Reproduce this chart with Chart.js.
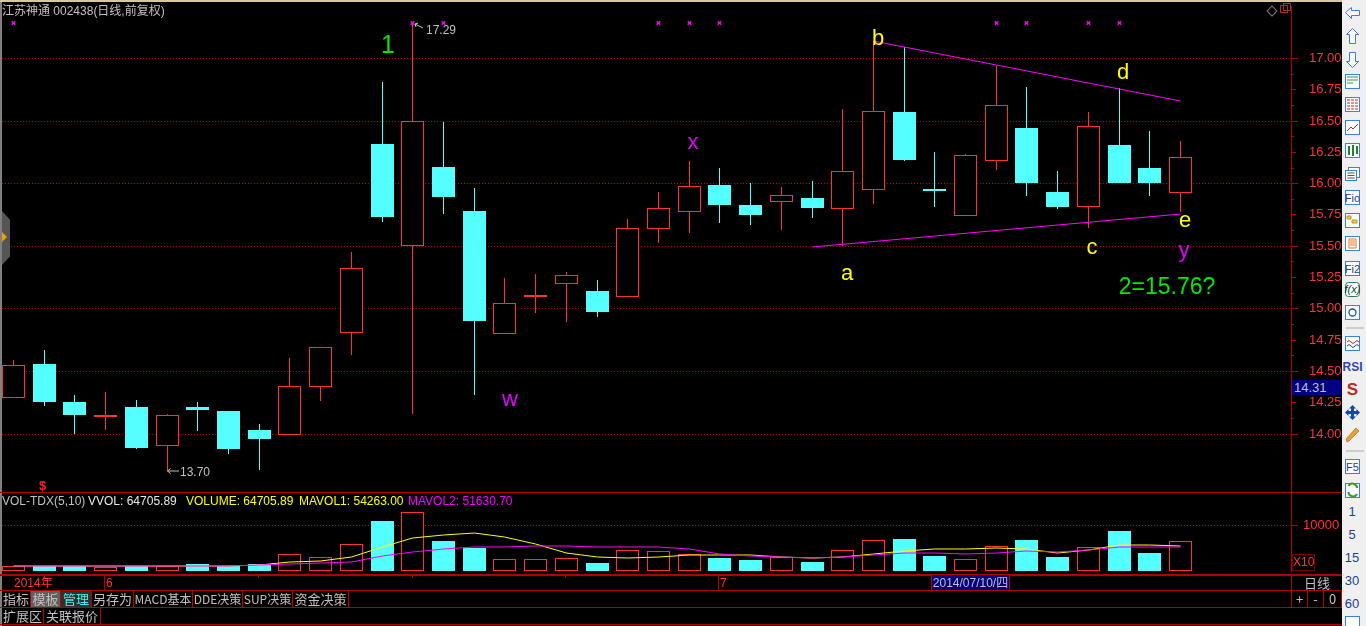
<!DOCTYPE html>
<html>
<head>
<meta charset="utf-8">
<title>江苏神通 002438</title>
<script src="https://cdn.jsdelivr.net/npm/chart.js@4"></script>
<style>
  html, body { margin: 0; padding: 0; background: #000; width: 1366px; height: 626px; overflow: hidden; }
  body { position: relative; font-family: "Liberation Sans", "Noto Sans CJK SC", sans-serif; color: #c0c0c0; }
  canvas { position: absolute; left: 0; }
  #priceChart { top: 0; }
  #volumeChart { top: 493px; }
  .abs { position: absolute; white-space: nowrap; }
  .hline { position: absolute; left: 0; width: 1342px; height: 1px; background: #b40000; }
  .vline { position: absolute; width: 1px; background: #b40000; }
  .note { position: absolute; white-space: nowrap; font: 22px/22px "Liberation Sans", sans-serif; transform: translate(-50%, -50%); }
  .stat { position: absolute; top: 495px; font-size: 12px; line-height: 13px; white-space: nowrap; }
  .btn { position: absolute; height: 16px; line-height: 16px; text-align: center; border-right: 1px solid #b40000; font: 13px/16px "Noto Sans CJK SC", sans-serif; white-space: nowrap; }
  #side { position: absolute; left: 1342px; top: 0; }
</style>
</head>
<body>
<canvas id="priceChart" width="1342" height="493"></canvas>
<canvas id="volumeChart" width="1342" height="79"></canvas>

<div class="abs" style="left:0;top:0;width:1342px;height:2px;background:#d8c89c"></div>
<div class="abs" style="left:0;top:2px;width:2px;height:624px;background:#808080"></div>
<div class="abs" style="left:2px;top:3px;font:12px/16px 'Liberation Sans','Noto Sans CJK SC',sans-serif">江苏神通 002438(日线,前复权)</div>
<div class="abs" style="left:2px;top:211px;width:8px;height:54px;background:#555;clip-path:polygon(0 0,100% 16%,100% 84%,0 100%)"></div>
<div class="abs" style="left:2px;top:232px;width:0;height:0;border-left:5px solid #f0a000;border-top:5px solid transparent;border-bottom:5px solid transparent"></div>
<div class="abs" style="left:1268px;top:7px;width:6px;height:6px;border:1px solid #777;transform:rotate(45deg)"></div>
<div class="abs" style="left:1280px;top:5px;width:6px;height:6px;border:1px solid #a03030"></div>
<div class="abs" style="left:1283px;top:3px;width:6px;height:6px;border:1px solid #a03030"></div>

<div class="note" style="left:388px;top:44px;color:#00e800;font-size:25px">1</div>
<div class="note" style="left:693px;top:142px;color:#e000ff">x</div>
<div class="note" style="left:510px;top:399px;color:#e000ff">w</div>
<div class="note" style="left:847px;top:273px;color:#ffff00">a</div>
<div class="note" style="left:878px;top:38px;color:#ffff00">b</div>
<div class="note" style="left:1092px;top:247px;color:#ffff00">c</div>
<div class="note" style="left:1123px;top:72px;color:#ffff00">d</div>
<div class="note" style="left:1185px;top:220px;color:#ffff00">e</div>
<div class="note" style="left:1184px;top:250px;color:#e000ff">y</div>
<div class="note" style="left:1167px;top:286px;color:#00e800;font-size:23px">2=15.76?</div>
<div class="abs" style="left:426px;top:23px;font-size:12px;line-height:14px">17.29</div>
<div class="abs" style="left:180px;top:465px;font-size:12px;line-height:14px">13.70</div>
<svg class="abs" style="left:412px;top:20px" width="14" height="12"><path d="M3 4 L11 8 M3 4 L6 3 M3 4 L4 7" stroke="#c0c0c0" fill="none"/></svg>
<svg class="abs" style="left:166px;top:466px" width="14" height="10"><path d="M1.5 5 H13 M1.5 5 L4.5 2.5 M1.5 5 L4.5 7.5" stroke="#c0c0c0" fill="none"/></svg>
<div class="abs" style="left:39px;top:479px;color:#ff2020;font:bold 13px/13px 'Liberation Sans',sans-serif">$</div>

<div class="hline" style="top:492px"></div>
<div class="stat" style="left:2px;color:#c0c0c0">VOL-TDX(5,10)</div>
<div class="stat" style="left:88px;color:#e8e8e8">VVOL: 64705.89</div>
<div class="stat" style="left:186px;color:#ffff00">VOLUME: 64705.89</div>
<div class="stat" style="left:299px;color:#ffff00">MAVOL1: 54263.00</div>
<div class="stat" style="left:408px;color:#ff00ff">MAVOL2: 51630.70</div>
<div class="abs" style="left:1292px;top:554px;width:21px;height:15px;border:1px solid #800000;color:#ff3232;font-size:12px;line-height:15px;text-align:center">X10</div>

<div class="hline" style="top:574px;height:2px"></div>
<div class="hline" style="top:590px"></div>
<div class="hline" style="top:607px"></div>
<div class="hline" style="top:624px;width:1366px"></div>
<div class="vline" style="left:104px;top:575px;height:15px"></div>
<div class="vline" style="left:718px;top:575px;height:15px"></div>
<div class="vline" style="left:258px;top:575px;height:3px"></div>
<div class="vline" style="left:412px;top:575px;height:3px"></div>
<div class="vline" style="left:565px;top:575px;height:3px"></div>
<div class="abs" style="left:14px;top:575px;color:#ff3232;font:12px/16px 'Liberation Sans','Noto Sans CJK SC',sans-serif">2014年</div>
<div class="abs" style="left:106px;top:575px;color:#ff3232;font-size:12px;line-height:16px">6</div>
<div class="abs" style="left:720px;top:575px;color:#ff3232;font-size:12px;line-height:16px">7</div>
<div class="abs" style="left:931px;top:575px;width:77px;height:15px;background:#000080;border-left:1px solid #b40000;border-right:1px solid #b40000;font:12px/16px 'Liberation Sans','Noto Sans CJK SC',sans-serif;text-align:center">2014/07/10/四</div>
<div class="vline" style="left:1291px;top:575px;height:32px"></div>
<div class="abs" style="left:1292px;top:575px;width:50px;text-align:center;font:13px/16px 'Noto Sans CJK SC',sans-serif">日线</div>

<div class="btn" style="left:2px;top:591px;width:28px">指标</div>
<div class="btn" style="left:31px;top:591px;width:29px;background:#606060">模板</div>
<div class="btn" style="left:61px;top:591px;width:30px;background:#303030;color:#40f0f0">管理</div>
<div class="btn" style="left:92px;top:591px;width:41px">另存为</div>
<div class="btn" style="left:134px;top:591px;width:58px;font-size:12px">MACD基本</div>
<div class="btn" style="left:193px;top:591px;width:49px;font-size:12px">DDE决策</div>
<div class="btn" style="left:243px;top:591px;width:49px;font-size:12px">SUP决策</div>
<div class="btn" style="left:293px;top:591px;width:55px">资金决策</div>
<div class="btn" style="left:1292px;top:591px;width:15px">+</div>
<div class="btn" style="left:1308px;top:591px;width:15px">-</div>
<div class="btn" style="left:1324px;top:591px;width:17px">0</div>
<div class="btn" style="left:2px;top:608px;width:41px">扩展区</div>
<div class="btn" style="left:44px;top:608px;width:56px">关联报价</div>

<div class="abs" style="left:1292px;top:380px;width:50px;height:15px;background:#000080;padding-left:2px;box-sizing:border-box;font-size:13px;line-height:16px">14.31</div>

<svg id="side" width="24" height="626">
  <rect width="24" height="626" fill="#f0f0f0"/>
  <g fill="#fff" stroke="#3b7fe8" stroke-width="1">
    <path d="M3.5 12.5 L9.5 7.5 V10.5 H17.5 V15.5 H9.5 V18.5 Z" transform="translate(0 0)"/>
    <path d="M10.5 28.5 L16.5 34.5 H13.5 V43.5 H7.5 V34.5 H4.5 Z"/>
    <path d="M10.5 67.5 L16.5 61.5 H13.5 V52.5 H7.5 V61.5 H4.5 Z"/>
    <rect x="3.5" y="74.5" width="14" height="14"/>
    <rect x="3.5" y="97.5" width="14" height="14"/>
    <rect x="3.5" y="120.5" width="14" height="14"/>
    <rect x="3.5" y="143.5" width="14" height="14"/>
    <rect x="6.5" y="167.5" width="11" height="10"/>
    <rect x="3.5" y="170.5" width="11" height="10"/>
    <rect x="3.5" y="190.5" width="14" height="14"/>
    <rect x="3.5" y="213.5" width="14" height="14"/>
    <rect x="3.5" y="236.5" width="14" height="14"/>
    <rect x="3.5" y="261.5" width="14" height="14"/>
    <rect x="3.5" y="282.5" width="14" height="14" rx="3" stroke="#208060"/>
    <rect x="3.5" y="305.5" width="14" height="14"/>
    <rect x="3.5" y="336.5" width="14" height="14"/>
    <rect x="3.5" y="459.5" width="14" height="14"/>
    <rect x="3.5" y="483.5" width="14" height="14"/>
    <rect x="3.5" y="616.5" width="14" height="12"/>
  </g>
  <path d="M5 77H16M5 80H16M5 83H11" stroke="#20a040" fill="none"/>
  <path d="M5 100H16M5 103H16M5 106H16M5 109H16" stroke="#c02020" stroke-dasharray="3 1" fill="none"/>
  <path d="M5 131 L9 127 L11 129 L16 124" stroke="#d02020" fill="none"/>
  <path d="M7 146V155M11 145V156M15 146V154" stroke="#208030" stroke-width="2" fill="none"/>
  <path d="M5.5 173H12.5M5.5 175.5H12.5M5.5 178H12.5" stroke="#555" fill="none"/>
  <path d="M5 216H9V219H5ZM10 220H15V223H10Z" fill="#f0d040" stroke="#c09020"/>
  <path d="M7 239H14V248H7Z M8 241H13M8 243H13M8 245H13" fill="#fff" stroke="#e87820"/>
  <circle cx="10.5" cy="312.5" r="3.5" fill="none" stroke="#2050a0" stroke-width="1.3"/>
  <path d="M5 342 Q7 339 9 342 T13 342 T17 342" stroke="#d02020" fill="none"/>
  <path d="M5 346 Q7 343 9 346 T13 346 T17 346" stroke="#2040c0" fill="none"/>
  <path d="M10.5 405 L14 408.5 H12 V411 H14.5 V409 L18 412.5 L14.5 416 V414 H12 V416.5 H14 L10.5 420 L7 416.5 H9 V414 H6.5 V416 L3 412.5 L6.5 409 V411 H9 V408.5 H7 Z" fill="#1848a8"/>
  <path d="M5 442 L4 439 L14 428 L17 431 L7 441 Z" fill="#e8a030" stroke="#a06010" stroke-width=".6"/>
  <path d="M4 328H22M4 451H22" stroke="#aaa"/>
  <path d="M6.5 486 A4.5 4.5 0 0 1 15 488 M15 494 A4.5 4.5 0 0 1 6.5 492" stroke="#30a030" stroke-width="2" fill="none"/>
  <g font-family="Liberation Sans, sans-serif" fill="#1c3f94" text-anchor="middle">
    <text x="10.5" y="202" font-size="11">Fio</text>
    <text x="10.5" y="273" font-size="11">Fi2</text>
    <text x="10.5" y="293" font-size="11" font-style="italic" fill="#0a4030">f(x)</text>
    <text x="10.5" y="371" font-size="12" font-weight="bold" fill="#3048b0">RSI</text>
    <text x="10.5" y="395" font-size="17" font-weight="bold" fill="#c02828">S</text>
    <text x="10.5" y="471" font-size="11">F5</text>
    <text x="10" y="516" font-size="13">1</text>
    <text x="10" y="539" font-size="13">5</text>
    <text x="10" y="562" font-size="13">15</text>
    <text x="10" y="585" font-size="13">30</text>
    <text x="10" y="608" font-size="13">60</text>
  </g>
</svg>

<script>
// daily bars, 2014-05 to 2014-07
const opens = [14.285, 14.553, 14.25, 14.13, 14.21, 13.9, 14.21, 14.178, 14.027, 13.99, 14.372, 14.803, 16.31, 15.5, 16.126, 15.779, 14.797, 15.09, 15.197, 15.139, 15.093, 15.637, 15.773, 15.987, 15.827, 15.853, 15.883, 15.797, 15.944, 16.572, 15.95, 15.737, 16.176, 16.444, 15.926, 15.809, 16.309, 16.125, 15.92];
const closes = [14.55, 14.25, 14.146, 14.146, 13.883, 14.15, 14.186, 13.875, 13.955, 14.383, 14.694, 15.324, 15.726, 16.5, 15.886, 14.9, 15.04, 15.107, 15.264, 14.97, 15.64, 15.8, 15.976, 15.827, 15.747, 15.904, 15.803, 16.096, 16.577, 16.189, 15.94, 16.226, 16.625, 16.005, 15.806, 16.457, 16.005, 16.005, 16.21];
const highs = [14.585, 14.665, 14.306, 14.33, 14.266, 14.16, 14.25, 14.178, 14.074, 14.6, 14.694, 15.447, 16.806, 17.29, 16.486, 15.963, 15.243, 15.275, 15.29, 15.227, 15.715, 15.93, 16.179, 16.123, 16.003, 15.97, 16.019, 16.595, 17.133, 17.085, 16.253, 16.237, 16.934, 16.771, 16.1, 16.572, 16.76, 16.42, 16.34];
const lows = [14.285, 14.22, 14.0, 14.03, 13.875, 13.7, 14.02, 13.835, 13.71, 13.99, 14.258, 14.625, 15.69, 14.157, 15.75, 14.31, 14.797, 14.963, 14.89, 14.93, 15.093, 15.523, 15.603, 15.683, 15.667, 15.627, 15.723, 15.5, 15.83, 16.176, 15.806, 15.737, 16.109, 15.9, 15.79, 15.646, 16.005, 15.9, 15.766];

const volumes = [1168, 1095, 1095, 949, 1095, 1095, 1460, 1168, 1533, 3650, 2993, 5840, 10950, 12848, 6570, 5037, 2555, 2555, 2774, 1752, 4526, 4307, 3650, 2847, 2409, 2993, 1971, 4526, 6716, 7008, 3285, 2555, 5402, 6789, 3066, 5183, 8760, 3942, 6471];
const mavol1 = [1168, 1168, 1168, 1168, 1168, 1168, 1168, 1168, 1314, 1898, 2190, 2993, 5183, 7154, 7957, 8249, 7519, 5840, 4015, 2993, 2774, 3139, 3431, 3504, 3431, 3139, 2774, 2993, 3650, 4453, 4745, 4745, 4964, 4891, 4015, 4599, 5767, 5621, 5426];
const mavol2 = [1168, 1168, 1168, 1168, 1168, 1168, 1168, 1168, 1241, 1533, 1679, 1971, 3212, 4088, 4891, 5183, 5183, 5402, 5548, 5329, 5329, 5329, 4745, 3650, 3358, 2993, 2920, 3139, 3431, 3942, 3869, 3650, 3869, 4307, 4234, 4526, 5329, 5183, 5163];

const priceTicks = [14, 14.25, 14.5, 14.75, 15, 15.25, 15.5, 15.75, 16, 16.25, 16.5, 16.75, 17];
const volumeTicks = [10000];

// the pink crosses along the top of the price panel
const markerBars = [0, 13, 14, 21, 22, 23, 32, 33, 35, 36];
const markerPrice = 17.283;

// triangle drawn on the chart by hand
const supportBars = [26, 38];
const supportPrices = [15.49, 15.756];
const resistBars = [28, 38];
const resistPrices = [17.134, 16.658];

const RED = "#ff3232";
const CYAN = "#54ffff";
const GRID = "#c00000";
const AXIS = "#b40000";
const AXIS_FONT = { family: "'Liberation Sans', sans-serif", size: 13 };

const isUp = (i) => closes[i] >= opens[i];
const bars = (values) => values.map((v, i) => ({ x: i, y: v }));

// terminal draws everything on whole pixels, so snap the scales the same way
function snapX(scale) {
  if (scale.snapped) return;
  scale.snapped = true;
  const raw = scale.getPixelForValue;
  scale.getPixelForValue = function (v, i) {
    return Math.floor(raw.call(this, v, i)) + 0.5;
  };
}
function snapY(scale) {
  if (scale.snapped) return;
  scale.snapped = true;
  const raw = scale.getPixelForValue;
  scale.getPixelForValue = function (v, i) {
    return Math.round(raw.call(this, v, i));
  };
}

const xAxis = {
  type: "linear",
  display: false,
  offset: false,
  min: -0.3761,
  max: 41.597,
  afterDataLimits: snapX,
};

function yAxis(min, max, tickValues, padding, label) {
  return {
    position: "right",
    min: min,
    max: max,
    afterBuildTicks(axis) {
      snapY(axis);
      axis.ticks = tickValues.map((v) => ({ value: v }));
    },
    afterFit(axis) {
      axis.width = 51;
      axis.paddingTop = 0;
      axis.paddingBottom = 0;
    },
    border: { display: true, color: AXIS, width: 1, dash: [1, 2] },
    grid: {
      drawTicks: false,
      lineWidth: 1,
      color: (ctx) => (ctx.tick && ctx.tick.value % 0.5 === 0 ? GRID : "transparent"),
    },
    ticks: {
      autoSkip: false,
      padding: padding,
      color: RED,
      font: AXIS_FONT,
      callback: label,
    },
  };
}

// short marks on the price axis, longer on the round numbers
const axisMarks = {
  id: "axisMarks",
  afterDraw(chart) {
    const y = chart.scales.y;
    const ctx = chart.ctx;
    const left = y.left;
    ctx.save();
    ctx.strokeStyle = AXIS;
    ctx.lineWidth = 1;
    const mark = (v, len) => {
      const py = y.getPixelForValue(v) + 0.5;
      ctx.beginPath();
      ctx.moveTo(left, py);
      ctx.lineTo(left + len, py);
      ctx.stroke();
    };
    if (chart.canvas.id === "priceChart") {
      priceTicks.forEach((v, i) => {
        mark(v, v % 0.5 === 0 ? 7 : 5);
        if (i < priceTicks.length - 1) mark(v + 0.125, 3);
      });
    } else {
      volumeTicks.forEach((v) => mark(v, 7));
    }
    ctx.restore();
  },
};

const commonOptions = {
  responsive: false,
  animation: false,
  events: [],
  devicePixelRatio: 1,
  layout: { autoPadding: false, padding: { left: 2, right: 0, top: 6, bottom: 1 } },
  plugins: { legend: { display: false }, tooltip: { enabled: false } },
};

new Chart(document.getElementById("priceChart"), {
  type: "bar",
  plugins: [axisMarks],
  data: {
    datasets: [
      {
        label: "high-low",
        order: 3,
        grouped: false,
        data: bars(lows.map((l, i) => [l, highs[i]])),
        maxBarThickness: 1,
        barPercentage: 1,
        categoryPercentage: 1,
        inflateAmount: 0,
        backgroundColor: (ctx) => (isUp(ctx.dataIndex) ? RED : CYAN),
      },
      {
        label: "open-close",
        order: 2,
        grouped: false,
        data: bars(opens.map((o, i) => [o, closes[i]])),
        maxBarThickness: 23,
        barPercentage: 1,
        categoryPercentage: 1,
        inflateAmount: 0,
        minBarLength: 1,
        borderWidth: 1,
        borderSkipped: false,
        borderColor: (ctx) => (isUp(ctx.dataIndex) ? RED : CYAN),
        backgroundColor: (ctx) => (isUp(ctx.dataIndex) ? "#000" : CYAN),
      },
      {
        type: "line",
        label: "support",
        order: 1,
        data: supportBars.map((b, i) => ({ x: b, y: supportPrices[i] })),
        borderColor: "#ff00ff",
        borderWidth: 1,
        pointRadius: 0,
      },
      {
        type: "line",
        label: "resistance",
        order: 1,
        data: resistBars.map((b, i) => ({ x: b, y: resistPrices[i] })),
        borderColor: "#ff00ff",
        borderWidth: 1,
        pointRadius: 0,
      },
      {
        type: "line",
        label: "markers",
        order: 0,
        showLine: false,
        data: markerBars.map((b) => ({ x: b, y: markerPrice })),
        pointStyle: "crossRot",
        pointRadius: 2.5,
        pointBorderColor: "#ff00ff",
        pointBorderWidth: 1.4,
      },
    ],
  },
  options: {
    ...commonOptions,
    scales: {
      x: xAxis,
      y: yAxis(13.5335, 17.4153, priceTicks, 18, (v) => v.toFixed(2)),
    },
  },
});

new Chart(document.getElementById("volumeChart"), {
  type: "bar",
  plugins: [axisMarks],
  data: {
    datasets: [
      {
        label: "VOLUME",
        order: 3,
        grouped: false,
        data: bars(volumes),
        maxBarThickness: 23,
        barPercentage: 1,
        categoryPercentage: 1,
        inflateAmount: 0,
        borderWidth: 1,
        borderSkipped: false,
        borderColor: (ctx) => (isUp(ctx.dataIndex) ? RED : CYAN),
        backgroundColor: (ctx) => (isUp(ctx.dataIndex) ? "#000" : CYAN),
      },
      {
        type: "line",
        label: "MAVOL1",
        order: 2,
        data: bars(mavol1),
        borderColor: "#ffff00",
        borderWidth: 1,
        pointRadius: 0,
      },
      {
        type: "line",
        label: "MAVOL2",
        order: 1,
        data: bars(mavol2),
        borderColor: "#ff00ff",
        borderWidth: 1,
        pointRadius: 0,
      },
    ],
  },
  options: {
    ...commonOptions,
    layout: { autoPadding: false, padding: { left: 2, right: 0, top: 0, bottom: 1 } },
    scales: {
      x: { ...xAxis },
      y: {
        ...yAxis(0, 17068, volumeTicks, 12, (v) => String(v)),
        grid: { drawTicks: false, lineWidth: 1, color: GRID },
      },
    },
  },
});
</script>
</body>
</html>
